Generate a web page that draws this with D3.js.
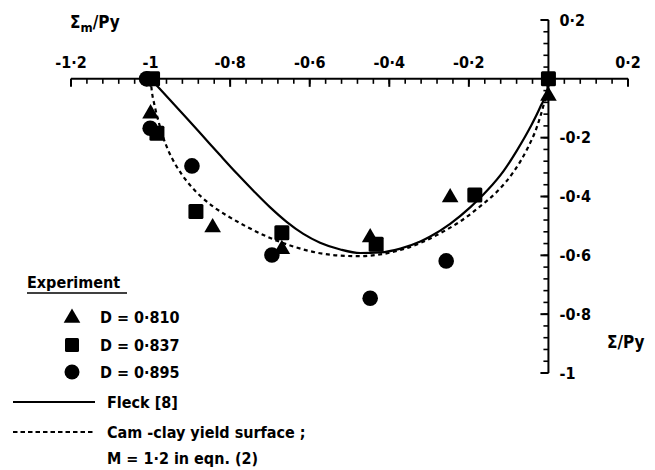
<!DOCTYPE html>
<html>
<head>
<meta charset="utf-8">
<script src="https://cdn.jsdelivr.net/npm/d3@7"></script>
<style>
  body { margin: 0; background: #fff; }
  svg text { font-family: "DejaVu Sans Condensed", "DejaVu Sans", sans-serif; font-weight: bold; fill: #000; }
</style>
</head>
<body>
<div id="chart"></div>
<script>
// tick values
let xTicks = [-1.2, -1, -0.8, -0.6, -0.4, -0.2, 0.2]
let yTicks = [0.2, -0.2, -0.4, -0.6, -0.8, -1]

// experiment points [Σ/Py, Σm/Py]
let d810 = [[-1.0, -0.115], [-0.844, -0.502], [-0.67, -0.576], [-0.448, -0.536], [-0.247, -0.400], [0, -0.055]]
let d837 = [[-0.995, 0], [-0.984, -0.185], [-0.886, -0.451], [-0.670, -0.523], [-0.433, -0.562], [-0.185, -0.395], [0, 0]]
let d895 = [[-1.01, 0], [-1.001, -0.168], [-0.896, -0.296], [-0.695, -0.599], [-0.448, -0.746], [-0.257, -0.619]]

// Fleck [8]
let fleck = [[-1, 0], [-0.951, -0.072], [-0.909, -0.134], [-0.867, -0.197], [-0.825, -0.260], [-0.783, -0.322],
    [-0.741, -0.381], [-0.700, -0.436], [-0.658, -0.486], [-0.616, -0.527], [-0.574, -0.557], [-0.523, -0.580],
    [-0.473, -0.592], [-0.423, -0.590], [-0.372, -0.577], [-0.322, -0.553], [-0.297, -0.536], [-0.247, -0.493],
    [-0.196, -0.436], [-0.154, -0.380], [-0.112, -0.312], [-0.079, -0.243], [-0.045, -0.163], [-0.020, -0.094],
    [-0.003, -0.037], [0, 0]]

// Cam-clay yield surface, M = 1.2
let camclay = [[-1, 0], [-0.997, -0.040], [-0.990, -0.090], [-0.980, -0.145], [-0.968, -0.200], [-0.955, -0.245],
    [-0.938, -0.290], [-0.920, -0.328], [-0.901, -0.361], [-0.871, -0.403], [-0.840, -0.437], [-0.808, -0.465],
    [-0.758, -0.503], [-0.708, -0.536], [-0.641, -0.570], [-0.574, -0.593], [-0.523, -0.601], [-0.473, -0.603],
    [-0.423, -0.597], [-0.372, -0.582], [-0.322, -0.558], [-0.272, -0.525], [-0.221, -0.484], [-0.171, -0.433],
    [-0.129, -0.383], [-0.087, -0.315], [-0.054, -0.240], [-0.028, -0.160], [-0.012, -0.088], [-0.003, -0.037], [0, 0]]

let width = 655, height = 470

let svg = d3.select("#chart").append("svg")
    .attr("width", width)
    .attr("height", height)

let x = d3.scaleLinear().domain([-1.2, 0.2]).range([71, 628])
let y = d3.scaleLinear().domain([0.2, -1]).range([20, 373])

let fmt = d => (d < 0 ? "-" : "") + String(Math.abs(d)).replace(".", "·")

// x axis along Σm = 0, ticks hanging below, labels above
let xMinor = d3.range(-1.2, 0.2001, 0.04)
let xg = svg.append("g").attr("transform", "translate(0," + y(0) + ")")
xg.append("line").attr("x1", x(-1.2)).attr("x2", x(0.2)).attr("stroke", "#000").attr("stroke-width", 2)
xg.selectAll(".xminor").data(xMinor).enter().append("line")
    .attr("x1", d => x(d)).attr("x2", d => x(d))
    .attr("y1", 0).attr("y2", 5)
    .attr("stroke", "#000").attr("stroke-width", 1.6)
xg.selectAll(".xmajor").data(xTicks.concat([0])).enter().append("line")
    .attr("x1", d => x(d)).attr("x2", d => x(d))
    .attr("y1", 0).attr("y2", 8)
    .attr("stroke", "#000").attr("stroke-width", 2)
xg.selectAll(".xlab").data(xTicks).enter().append("text")
    .attr("x", d => x(d)).attr("y", -11)
    .attr("text-anchor", "middle")
    .style("font-size", "16px")
    .text(fmt)

// y axis along Σ = 0, ticks to the left, labels to the right
let yMinor = d3.range(-1, 0.2001, 0.04)
let yg = svg.append("g").attr("transform", "translate(" + x(0) + ",0)")
yg.append("line").attr("y1", y(0.2)).attr("y2", y(-1)).attr("stroke", "#000").attr("stroke-width", 2)
yg.selectAll(".yminor").data(yMinor).enter().append("line")
    .attr("y1", d => y(d)).attr("y2", d => y(d))
    .attr("x1", 0).attr("x2", -5)
    .attr("stroke", "#000").attr("stroke-width", 1.6)
yg.selectAll(".ymajor").data(yTicks).enter().append("line")
    .attr("y1", d => y(d)).attr("y2", d => y(d))
    .attr("x1", 0).attr("x2", -8)
    .attr("stroke", "#000").attr("stroke-width", 2)
yg.selectAll(".ylab").data(yTicks).enter().append("text")
    .attr("x", 11).attr("y", d => y(d))
    .attr("dy", "0.35em")
    .style("font-size", "16px")
    .text(fmt)

// axis titles
let t1 = svg.append("text").attr("x", 70).attr("y", 28).style("font-size", "17px")
t1.append("tspan").text("Σ")
t1.append("tspan").attr("dy", 4).style("font-size", "13px").text("m")
t1.append("tspan").attr("dy", -4).text("/Py")

svg.append("text").attr("x", 607).attr("y", 348).style("font-size", "17px").text("Σ/Py")

// curves
let line = d3.line().x(d => x(d[0])).y(d => y(d[1])).curve(d3.curveMonotoneX)

svg.append("path").datum(camclay)
    .attr("d", line)
    .attr("fill", "none").attr("stroke", "#000").attr("stroke-width", 2.2)
    .attr("stroke-dasharray", "4,3.5")

svg.append("path").datum(fleck)
    .attr("d", line)
    .attr("fill", "none").attr("stroke", "#000").attr("stroke-width", 2.2)

// markers
let triangle = d3.symbol().type(d3.symbolTriangle).size(120)

function drawTriangles(g, data) {
    g.selectAll(".tri").data(data).enter().append("path")
        .attr("d", triangle)
        .attr("transform", d => "translate(" + x(d[0]) + "," + (y(d[1]) + 1) + ")")
        .attr("fill", "#000")
}
function drawSquares(g, data) {
    g.selectAll(".sq").data(data).enter().append("rect")
        .attr("x", d => x(d[0]) - 7.5).attr("y", d => y(d[1]) - 7.5)
        .attr("width", 15).attr("height", 15).attr("rx", 1.5)
        .attr("fill", "#000")
}
function drawCircles(g, data) {
    g.selectAll(".ci").data(data).enter().append("circle")
        .attr("cx", d => x(d[0])).attr("cy", d => y(d[1]))
        .attr("r", 7.8)
        .attr("fill", "#000")
}

let marks = svg.append("g")
drawCircles(marks.append("g"), d895)
drawTriangles(marks.append("g"), d810)
drawSquares(marks.append("g"), d837)

// legend
let leg = svg.append("g")
leg.append("text").attr("x", 27).attr("y", 288).style("font-size", "16px").text("Experiment")
leg.append("line").attr("x1", 27).attr("x2", 127).attr("y1", 293).attr("y2", 293)
    .attr("stroke", "#000").attr("stroke-width", 1.5)

let legRows = [["tri", "D = 0·810", 317], ["sq", "D = 0·837", 345], ["ci", "D = 0·895", 372]]
legRows.forEach(function(r) {
    let g = leg.append("g")
    if (r[0] == "tri") g.append("path").attr("d", triangle).attr("transform", "translate(72," + (r[2] + 1) + ")")
    if (r[0] == "sq") g.append("rect").attr("x", 65).attr("y", r[2] - 7).attr("width", 14).attr("height", 14).attr("rx", 1.5)
    if (r[0] == "ci") g.append("circle").attr("cx", 72).attr("cy", r[2]).attr("r", 7.5)
    g.append("text").attr("x", 100).attr("y", r[2]).attr("dy", "0.35em").style("font-size", "16px").text(r[1])
})

leg.append("line").attr("x1", 13).attr("x2", 95).attr("y1", 402).attr("y2", 402)
    .attr("stroke", "#000").attr("stroke-width", 2)
leg.append("text").attr("x", 107).attr("y", 402).attr("dy", "0.35em").style("font-size", "16px").text("Fleck [8]")

leg.append("line").attr("x1", 13).attr("x2", 95).attr("y1", 432).attr("y2", 432)
    .attr("stroke", "#000").attr("stroke-width", 2).attr("stroke-dasharray", "4.5,3")
leg.append("text").attr("x", 107).attr("y", 432).attr("dy", "0.35em").style("font-size", "16px").text("Cam -clay yield surface ;")
leg.append("text").attr("x", 107).attr("y", 458).attr("dy", "0.35em").style("font-size", "16px").text("M = 1·2 in eqn. (2)")
</script>
</body>
</html>
